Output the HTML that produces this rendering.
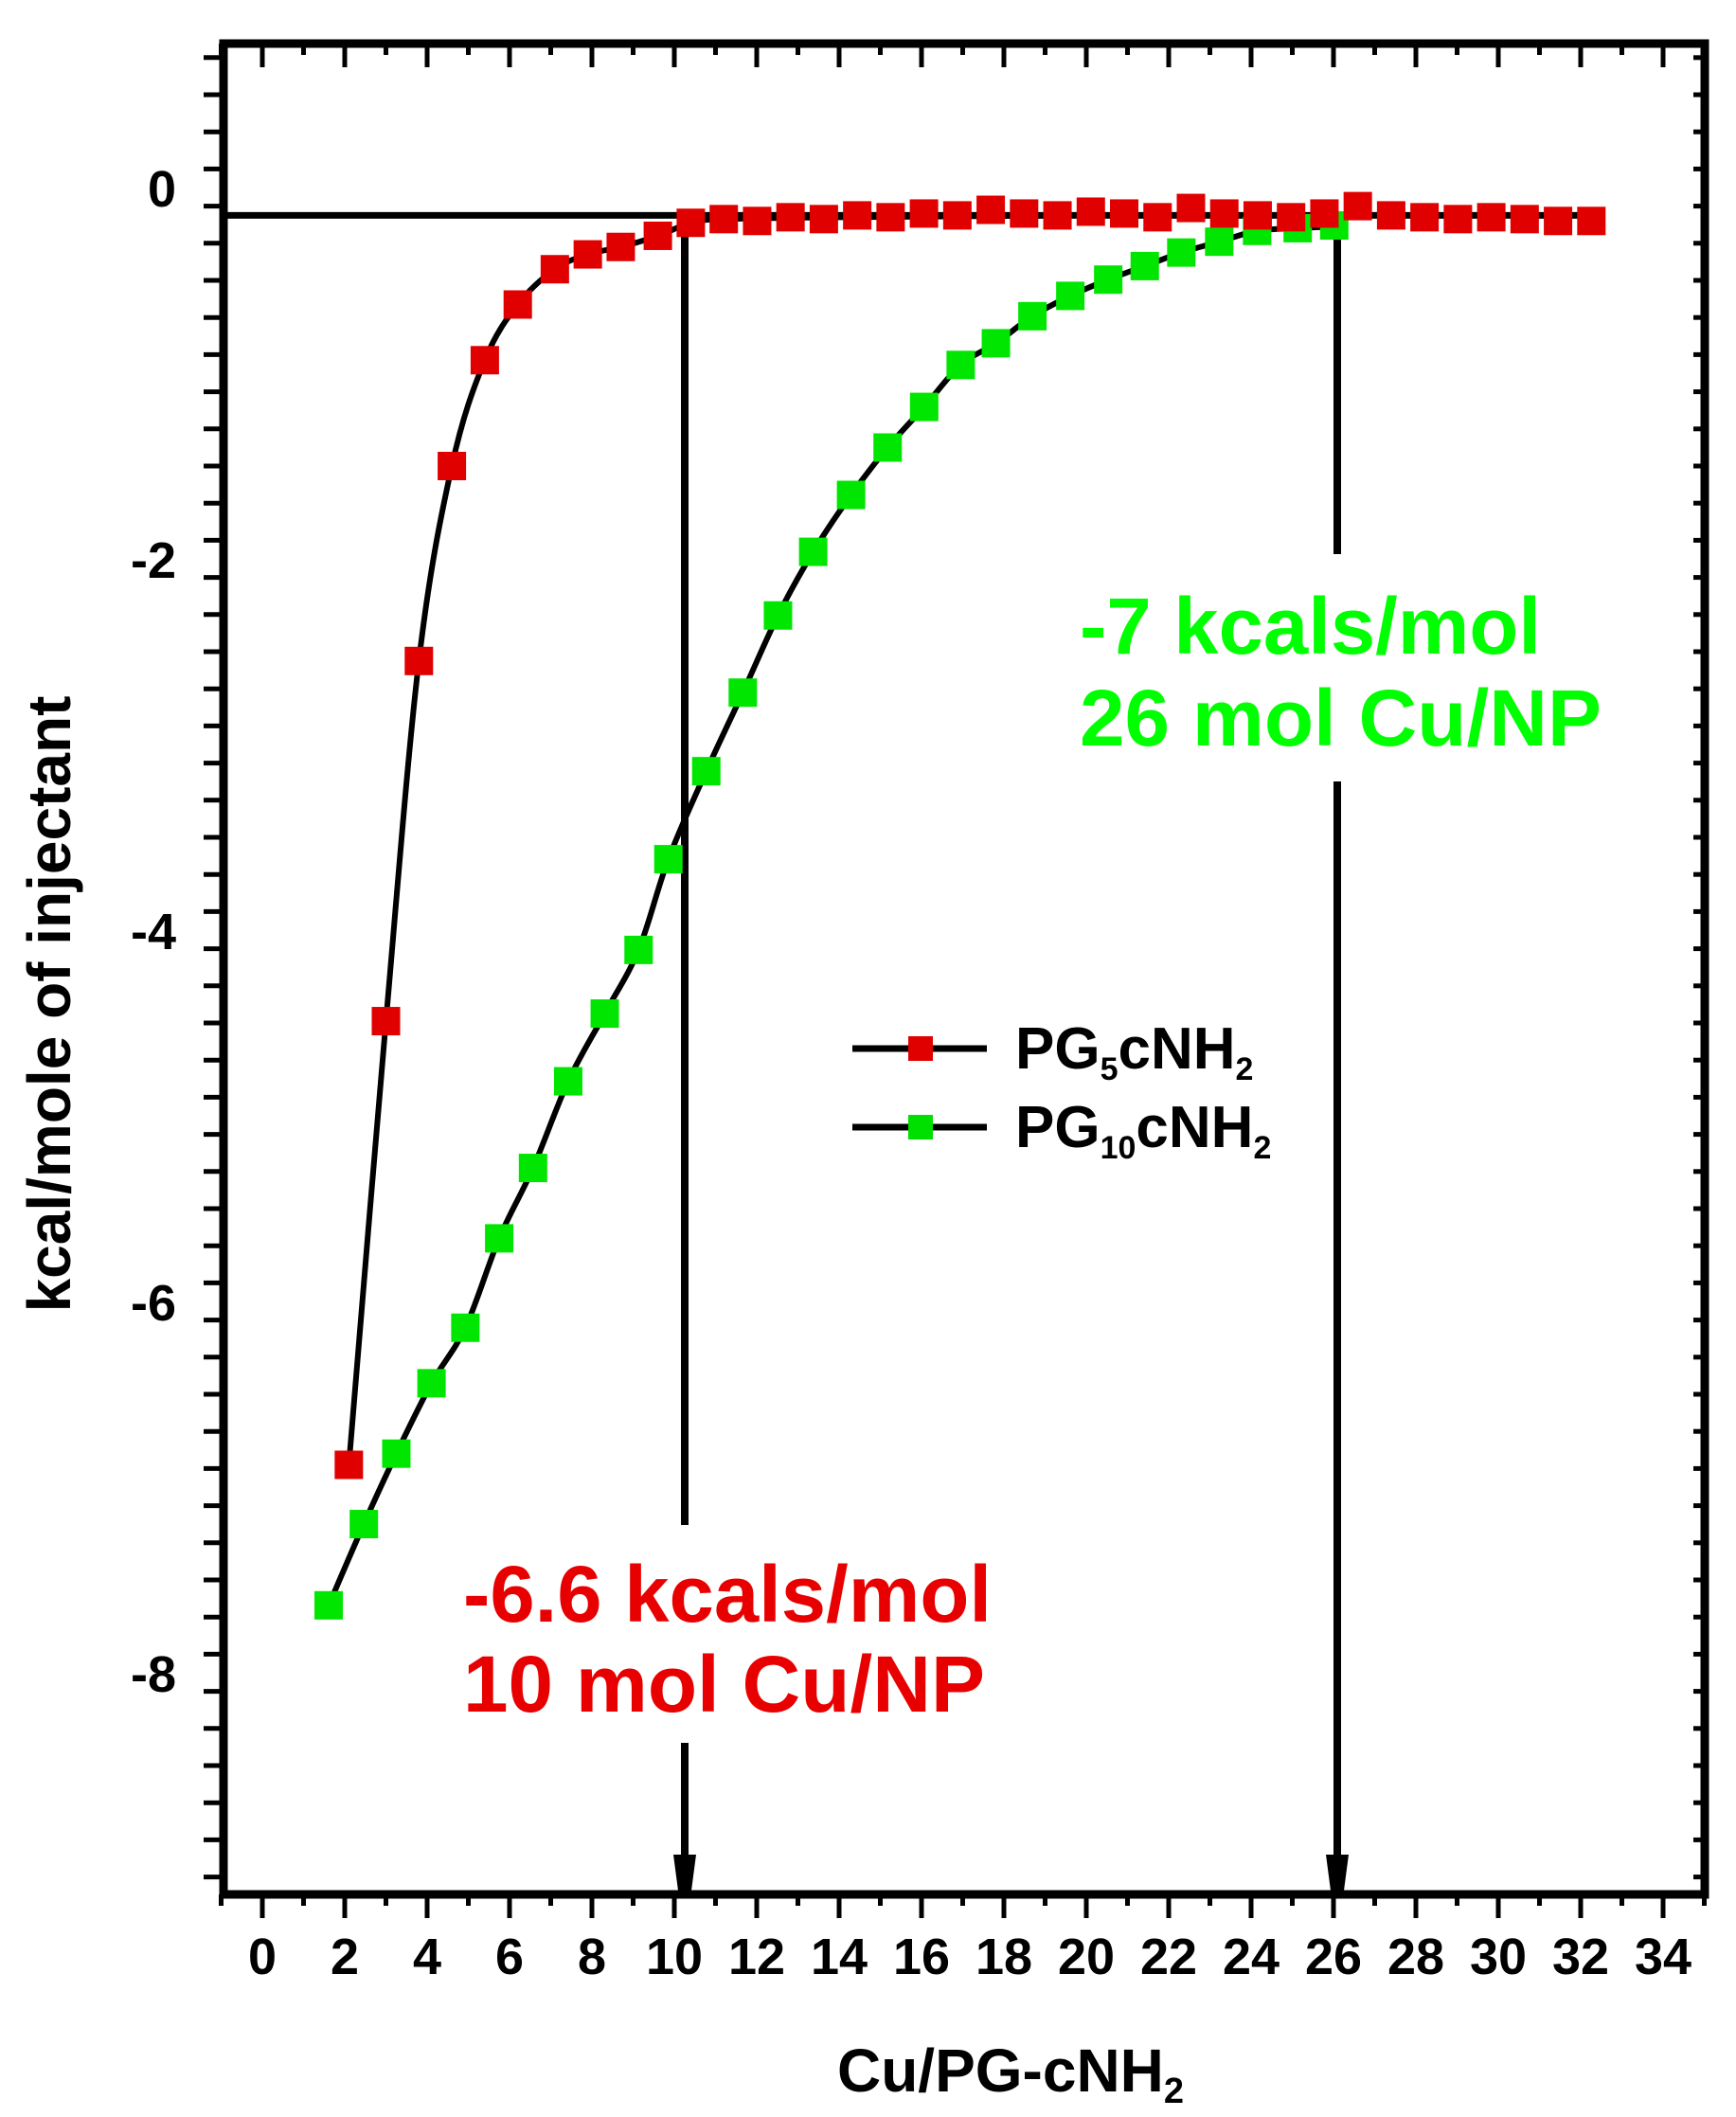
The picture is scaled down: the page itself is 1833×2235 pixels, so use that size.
<!DOCTYPE html>
<html><head><meta charset="utf-8"><style>
html,body{margin:0;padding:0;background:#fff;}
svg{display:block;}
text{font-family:"Liberation Sans",Arial,sans-serif;font-weight:bold;}
</style></head><body>
<svg id="s" width="1833" height="2235" viewBox="0 0 1833 2235" xmlns="http://www.w3.org/2000/svg">
<rect width="1833" height="2235" fill="#fff"/>
<g id="g"></g>
<rect x="236" y="46" width="1564" height="1954" fill="none" stroke="#000" stroke-width="9"/>
<g font-size="54" text-anchor="end">
<text x="186" y="218">0</text>
<text x="186" y="610">-2</text>
<text x="186" y="1002">-4</text>
<text x="186" y="1394">-6</text>
<text x="186" y="1786">-8</text>
</g>
<text transform="translate(74,1060) rotate(-90)" font-size="64" text-anchor="middle">kcal/mole of injectant</text>
<g font-size="54" text-anchor="middle" id="xl"></g>
<text x="1067" y="2208" font-size="64" text-anchor="middle">Cu/PG-cNH<tspan font-size="38" dy="12">2</tspan></text>
<line x1="900" y1="1107" x2="1042" y2="1107" stroke="#000" stroke-width="7"/>
<rect x="959" y="1094" width="26" height="26" fill="#e00000"/>
<text x="1072" y="1128" font-size="62">PG<tspan font-size="34" dy="12">5</tspan><tspan dy="-12">cNH</tspan><tspan font-size="34" dy="12">2</tspan></text>
<line x1="900" y1="1190" x2="1042" y2="1190" stroke="#000" stroke-width="7"/>
<rect x="959" y="1177" width="26" height="26" fill="#00e000"/>
<text x="1072" y="1211" font-size="62">PG<tspan font-size="34" dy="12">10</tspan><tspan dy="-12">cNH</tspan><tspan font-size="34" dy="12">2</tspan></text>
<text x="1140" y="690" font-size="84" fill="#00ff00" textLength="487" lengthAdjust="spacingAndGlyphs">-7 kcals/mol</text>
<text x="1140" y="787" font-size="84" fill="#00ff00" textLength="551" lengthAdjust="spacingAndGlyphs">26 mol Cu/NP</text>
<text x="489" y="1712" font-size="84" fill="#e80000" textLength="558" lengthAdjust="spacingAndGlyphs">-6.6 kcals/mol</text>
<text x="489" y="1807" font-size="84" fill="#e80000" textLength="551" lengthAdjust="spacingAndGlyphs">10 mol Cu/NP</text>
</svg>
<script>
const NS="http://www.w3.org/2000/svg";
const g=document.getElementById('g');
const X=v=>277+43.5*v, Y=v=>198-196*v;
function el(n,a,p){const e=document.createElementNS(NS,n);for(const k in a)e.setAttribute(k,a[k]);(p||g).appendChild(e);return e;}
for(let i=-1;i<=35;i++){const x=X(i);const maj=i%2==0;
 el('line',{x1:x,y1:2000,x2:x,y2:maj?2025:2012,stroke:'#000','stroke-width':5});
 el('line',{x1:x,y1:46,x2:x,y2:maj?71:58,stroke:'#000','stroke-width':5});}
const xl=document.getElementById('xl');
for(let i=0;i<=34;i+=2){const t=el('text',{x:X(i),y:2084},xl);t.textContent=i;}
for(let k=-5;k<=48;k++){const v=0.5-k*0.2;const y=Y(v);if(y<50||y>1996)continue;const maj=Math.abs(v/2-Math.round(v/2))<1e-6;
 el('line',{x1:maj?205:215,y1:y,x2:236,y2:y,stroke:'#000','stroke-width':5});
 el('line',{x1:1800,y1:y,x2:maj?1775:1788,y2:y,stroke:'#000','stroke-width':5});}
el('line',{x1:236,y1:Y(-0.15),x2:1690,y2:Y(-0.15),stroke:'#000','stroke-width':7});
function vl(x,y1,y2){el('line',{x1:x,y1:y1,x2:x,y2:y2,stroke:'#000','stroke-width':8});}
vl(723,Y(-0.15),1610);vl(723,1840,1965);
el('polygon',{points:`711,1958 735,1958 730,1996 716,1996`,fill:'#000'});
vl(1412,Y(-0.15),585);vl(1412,825,1965);
el('polygon',{points:`1400,1958 1424,1958 1419,1996 1405,1996`,fill:'#000'});
const red=[[2.1,-6.88],[3.0,-4.49],[3.8,-2.55],[4.6,-1.50],[5.4,-0.93],[6.2,-0.63],[7.1,-0.44],[7.9,-0.36],[8.7,-0.32],[9.6,-0.26],[10.4,-0.19]];
const noise=[-0.17,-0.18,-0.16,-0.17,-0.15,-0.16,-0.14,-0.15,-0.12,-0.14,-0.15,-0.13,-0.14,-0.16,-0.11,-0.14,-0.15,-0.16,-0.14,-0.10,-0.15,-0.16,-0.17,-0.16,-0.17,-0.18,-0.18];
for(let i=0;i<27;i++){const x=11.2+i*0.81;if(x>32.4)break;red.push([x,noise[i]]);}
const gd=[[242,1187],[268,1127],[292,1075],[318,1023],[343,982],[368,916],[393,864],[419,800],[446,750],[471,703],[493,636],[521,571],[548,513],[574,456],[600,409],[628,367],[655,332],[682,302],[709,271],[735,255],[762,235],[790,220],[818,208],[845,198],[872,188],[900,180],[928,172],[958,170],[985,168]];
const green=gd.map(p=>[(p[0]-193)/30.44,-(p[1]-140)/137.1]);
function curve(pts){const P=pts.map(p=>[X(p[0]),Y(p[1])]);let d=`M${P[0][0]},${P[0][1]}`;
 for(let i=0;i<P.length-1;i++){const p0=P[i-1]||P[i],p1=P[i],p2=P[i+1],p3=P[i+2]||p2;
  d+=` C${p1[0]+(p2[0]-p0[0])/6},${p1[1]+(p2[1]-p0[1])/6} ${p2[0]-(p3[0]-p1[0])/6},${p2[1]-(p3[1]-p1[1])/6} ${p2[0]},${p2[1]}`;}
 el('path',{d:d,fill:'none',stroke:'#000','stroke-width':6});}
curve(red.slice(0,12).concat([[14,-0.16],[20,-0.15],[32.5,-0.15]]));
curve(green.concat([[26,-0.15]]));
const s=30;
green.forEach(p=>el('rect',{x:X(p[0])-s/2,y:Y(p[1])-s/2,width:s,height:s,fill:'#00e600'}));
red.forEach(p=>el('rect',{x:X(p[0])-s/2,y:Y(p[1])-s/2,width:s,height:s,fill:'#e00000'}));
</script>
</body></html>
